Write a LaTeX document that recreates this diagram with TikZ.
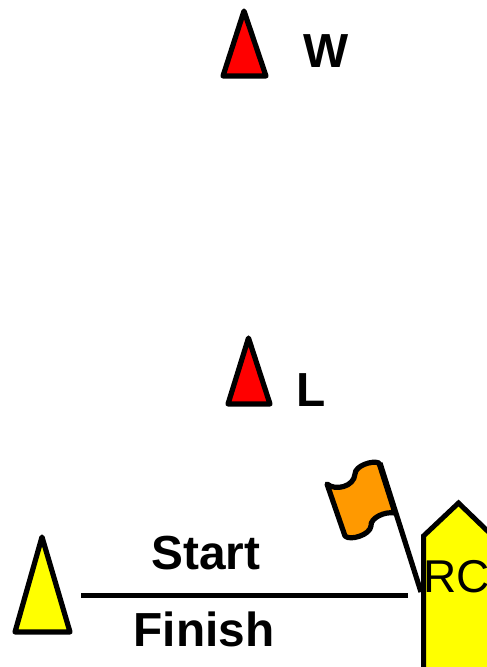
\documentclass[tikz,border=0pt]{standalone}
\usepackage{fontspec}
\setmainfont{Liberation Sans}
\begin{document}
\begin{tikzpicture}[x=1pt,y=-1pt,
  outline/.style={draw=black,line width=5.2pt,line join=round,line cap=round},
  lbl/.style={inner sep=0pt,anchor=base,font=\fontsize{47.8}{48}\selectfont\bfseries},
  rclbl/.style={inner sep=0pt,anchor=base west,font=\fontsize{46}{46}\selectfont}]
\useasboundingbox (0,0) rectangle (487,667);
\clip (0,0) rectangle (487,667);
\definecolor{flagorange}{RGB}{255,153,0}
\definecolor{markred}{RGB}{255,0,0}
\definecolor{markyellow}{RGB}{255,255,0}
% marks
\draw[outline,fill=markred] (244,11) -- (266,76) -- (223,76) -- cycle;
\draw[outline,fill=markred] (248.5,338) -- (270,404) -- (228,404) -- cycle;
\draw[outline,fill=markyellow] (42,537) -- (70,632) -- (15,632) -- cycle;
\node[lbl,anchor=base west] (w) at (303,67) {W};
\node[lbl,anchor=base west] (l) at (296,406) {L};
% line
\coordinate (lineA) at (81,595);
\coordinate (lineB) at (408,595);
\draw[line width=5pt] (lineA) -- (lineB);
\node[lbl] (start) at (206,569.5) {Start};
\node[lbl] (finish) at (204,646) {Finish};
% boat
\draw[draw=black,line width=5pt,miter limit=10,fill=markyellow] (423.5,680) -- (423.5,536) -- (458.5,503) -- (500,543) -- (500,680) -- cycle;
\node[rclbl] (rc) at (423.5,592) {RC};
% flag
\draw[outline,fill=flagorange] (327,484)
  .. controls (335,491) and (354,487) .. (355,474)
  .. controls (355,466) and (372,460) .. (379,463)
  -- (395,513)
  .. controls (385,511) and (370,518) .. (371,526)
  .. controls (370,535) and (350,541) .. (345,536)
  -- cycle;
\draw[outline,line cap=butt] (380,463) -- (421,592);
\end{tikzpicture}
\end{document}
